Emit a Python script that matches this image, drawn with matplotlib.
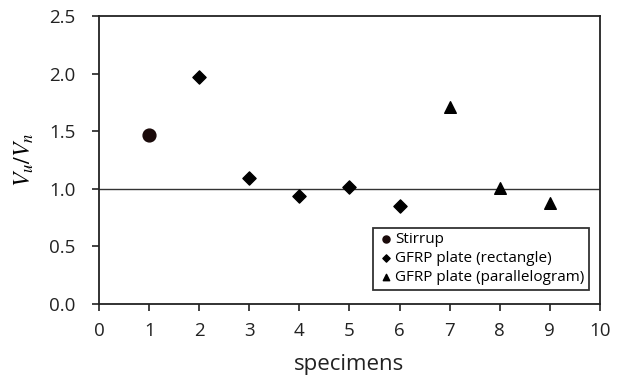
import matplotlib.pyplot as plt

plt.rcParams['font.family'] = ['Open Sans', 'DejaVu Sans']
plt.rcParams['mathtext.fontset'] = 'stix'

# specimen numbers and Vu/Vn ratios
stirrup_x = [1]
stirrup_y = [1.47]
rect_x = [2, 3, 4, 5, 6]
rect_y = [1.97, 1.09, 0.94, 1.02, 0.85]
para_x = [7, 8, 9]
para_y = [1.71, 1.01, 0.88]

xticks = list(range(0, 11))
yticks = [0.0, 0.5, 1.0, 1.5, 2.0, 2.5]

fig = plt.figure(figsize=(6.28, 3.82), dpi=100)
ax = fig.add_axes([0.158, 0.204, 0.797, 0.754])

ax.axhline(1.0, color='#333333', lw=1.0, zorder=1)
ax.scatter(stirrup_x, stirrup_y, marker='o', s=85, color='#1a0a0a', label='Stirrup', zorder=3)
ax.scatter(rect_x, rect_y, marker='D', s=45, color='black', label='GFRP plate (rectangle)', zorder=3)
ax.scatter(para_x, para_y, marker='^', s=70, color='black', label='GFRP plate (parallelogram)', zorder=3)

ax.set_xlim(0, 10)
ax.set_ylim(0, 2.5)
ax.set_xticks(xticks)
ax.set_yticks(yticks)
ax.set_yticklabels([f'{v:.1f}' for v in yticks])
ax.tick_params(direction='out', length=5, width=1.2, labelsize=13.5, colors='#222222')
ax.tick_params(axis='y', pad=12)
ax.tick_params(axis='x', pad=8)
for s in ax.spines.values():
    s.set_linewidth(1.3)
    s.set_color('#222222')

ax.set_xlabel('specimens', fontsize=16, labelpad=10, color='#222222')
ax.set_ylabel(r'$V_u/V_n$', fontsize=17, labelpad=9)

leg = ax.legend(loc='lower right', bbox_to_anchor=(0.993, 0.024), fontsize=11, frameon=True,
                fancybox=False, handletextpad=0.1, handlelength=1.0, borderpad=0.3,
                labelspacing=0.25, markerscale=0.55)
leg.get_frame().set_edgecolor('black')
leg.get_frame().set_linewidth(1.3)

fig.savefig('out.png', dpi=100)
